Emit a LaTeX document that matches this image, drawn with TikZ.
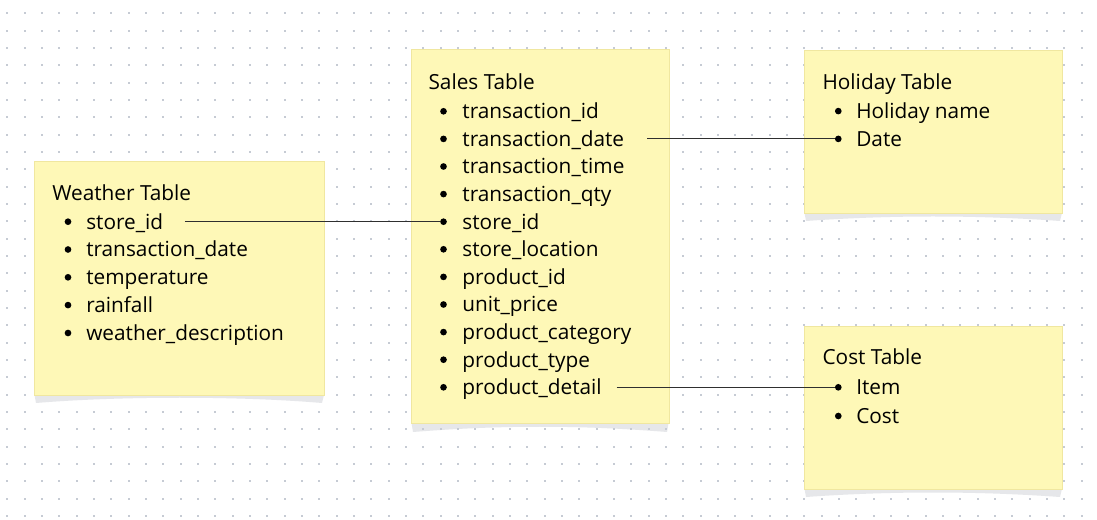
\documentclass[tikz,border=0pt]{standalone}
\usepackage{fontspec}
\setmainfont{Open Sans}
\usetikzlibrary{positioning}

\definecolor{notefill}{HTML}{FEF8B7}
\definecolor{noteedge}{HTML}{F0E7A0}
\definecolor{notecurl}{HTML}{E6E7EA}
\definecolor{griddot}{HTML}{C6CBD4}
\definecolor{linkgray}{HTML}{2F2F2F}

\begin{document}
\begin{tikzpicture}[
				x=0.75pt, y=-0.75pt,
				every node/.style={font=\fontsize{15.6}{19}\selectfont},
				note/.style={draw=noteedge, fill=notefill, line width=0.6pt},
				curl/.style={fill=notecurl},
				heading/.style={anchor=base west, inner sep=0pt},
				dot/.style={circle, fill=black, inner sep=0pt, minimum size=5pt},
				item/.style={anchor=west, inner sep=0pt, text height=12pt, text depth=1pt},
				link/.style={draw=linkgray, line width=0.8pt}
				]
				\useasboundingbox[fill=white] (0,0) rectangle (1097,520);

				% Curls under the notes
				\fill[curl] (34,392) -- (36,403) .. controls (120,396) and (240,396) .. (322,403) -- (324.7,392) -- cycle;
				\fill[curl] (411,420) -- (413,432) .. controls (500,425) and (580,425) .. (667,432) -- (669,420) -- cycle;
				\fill[curl] (804,210) -- (806,221) .. controls (890,215) and (976,215) .. (1060,221) -- (1062.7,210) -- cycle;
				\fill[curl] (804,486) -- (806,497) .. controls (890,491) and (976,491) .. (1060,497) -- (1062.7,486) -- cycle;

				% Dotted paper
				\foreach \i in {0,...,62}
					\foreach \j in {0,...,29}
						\fill[griddot] (6.3+17.33*\i,12.3+17.33*\j) rectangle ++(2,2);

				% Notes
				\path[note] (34,161) rectangle (324.7,395);
				\path[note] (411,49.3) rectangle (669,423);
				\path[note] (804,50) rectangle (1062.7,213);
				\path[note] (804,326) rectangle (1062.7,489);

				% Weather Table
				\node[heading] (wt) at (52,201) {Weather Table};
				\node[dot] (w1b) at (68,221.7) {};
				\node[item, right=13.5pt of w1b.center] (w1) {store\_id};
				\node[dot] (w2b) at (68,249.5) {};
				\node[item, right=13.5pt of w2b.center] (w2) {transaction\_date};
				\node[dot] (w3b) at (68,277.3) {};
				\node[item, right=13.5pt of w3b.center] (w3) {temperature};
				\node[dot] (w4b) at (68,305.1) {};
				\node[item, right=13.5pt of w4b.center] (w4) {rainfall};
				\node[dot] (w5b) at (68,333) {};
				\node[item, right=13.5pt of w5b.center] (w5) {weather\_description};

				% Sales Table
				\node[heading] (st) at (428.3,89.3) {Sales Table};
				\node[dot] (s1b) at (443.5,111.3) {};
				\node[item, right=14pt of s1b.center] (s1) {transaction\_id};
				\node[dot] (s2b) at (443.5,138.9) {};
				\node[item, right=14pt of s2b.center] (s2) {transaction\_date};
				\node[dot] (s3b) at (443.5,166.5) {};
				\node[item, right=14pt of s3b.center] (s3) {transaction\_time};
				\node[dot] (s4b) at (443.5,194.1) {};
				\node[item, right=14pt of s4b.center] (s4) {transaction\_qty};
				\node[dot] (s5b) at (443.5,221.7) {};
				\node[item, right=14pt of s5b.center] (s5) {store\_id};
				\node[dot] (s6b) at (443.5,249.3) {};
				\node[item, right=14pt of s6b.center] (s6) {store\_location};
				\node[dot] (s7b) at (443.5,276.9) {};
				\node[item, right=14pt of s7b.center] (s7) {product\_id};
				\node[dot] (s8b) at (443.5,304.5) {};
				\node[item, right=14pt of s8b.center] (s8) {unit\_price};
				\node[dot] (s9b) at (443.5,332.1) {};
				\node[item, right=14pt of s9b.center] (s9) {product\_category};
				\node[dot] (s10b) at (443.5,359.7) {};
				\node[item, right=14pt of s10b.center] (s10) {product\_type};
				\node[dot] (s11b) at (443.5,387.3) {};
				\node[item, right=14pt of s11b.center] (s11) {product\_detail};

				% Holiday Table
				\node[heading] (ht) at (822.3,90) {Holiday Table};
				\node[dot] (h1b) at (838.3,111.1) {};
				\node[item, right=13.3pt of h1b.center] (h1) {Holiday name};
				\node[dot] (h2b) at (838.3,138.9) {};
				\node[item, right=13.3pt of h2b.center] (h2) {Date};

				% Cost Table
				\node[heading] (ct) at (822.3,365) {Cost Table};
				\node[dot] (c1b) at (838.3,387.3) {};
				\node[item, right=13.3pt of c1b.center] (c1) {Item};
				\node[dot] (c2b) at (838.3,416) {};
				\node[item, right=13.3pt of c2b.center] (c2) {Cost};

				% Links
				\draw[link] ([xshift=16pt]w1.east) -- (s5b);
				\draw[link] ([xshift=17pt]s2.east) -- (h2b);
				\draw[link] ([xshift=11pt]s11.east) -- (c1b);
\end{tikzpicture}
\end{document}
